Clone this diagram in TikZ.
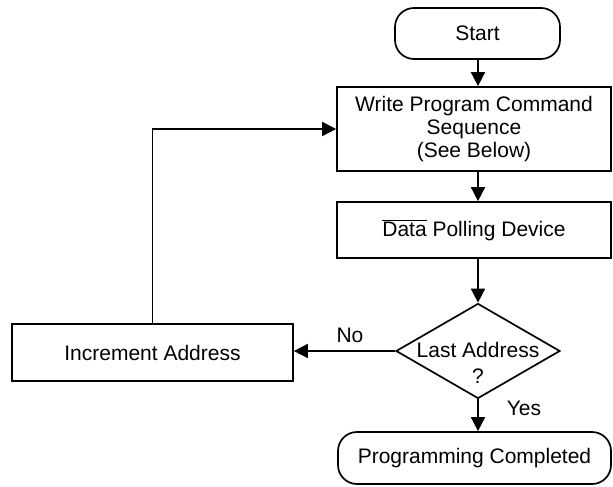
\documentclass[tikz,border=0pt]{standalone}
\usepackage{fontspec}
\setmainfont{Liberation Sans}
\usetikzlibrary{shapes.geometric,arrows.meta}
\begin{document}
\begin{tikzpicture}[x=1pt,y=-1pt,
  every node/.style={font=\fontsize{21}{25}\selectfont, inner sep=0pt},
  box/.style={draw, line width=1.7pt, rectangle},
  term/.style={draw, line width=1.7pt, rectangle, rounded corners=19pt},
  dec/.style={draw, line width=1.7pt, diamond, minimum width=164pt, minimum height=95pt},
  conn/.style={line width=1.7pt, -{Triangle[length=14pt,width=14pt]}},
  lbl/.style={font=\fontsize{21}{25}\selectfont}]
\useasboundingbox (0,0) rectangle (613,487);
\coordinate (ax) at (478,0);
\node[term, minimum width=165pt, minimum height=51pt] (start) at (477.5,33.5) {Start};
\node[box, minimum width=274pt, minimum height=84pt, align=center] (write) at (474,129)
  {Write Program Command\\[-2pt]Sequence\\[-2pt](See Below)};
\node[box, minimum width=274pt, minimum height=56pt] (data) at (474,230)
  {$\overline{\mbox{Data}}$ Polling Device};
\node[dec] (dia) at (478,351) {};
\node[align=center] (diatext) at (478,363) {Last Address\\[1pt]?};
\node[box, minimum width=281pt, minimum height=57pt] (inc) at (152.5,352.5) {Increment Address};
\node[term, minimum width=273pt, minimum height=52pt] (done) at (474.5,458) {Programming Completed};
\node[lbl] (no) at (350,335) {No};
\node[lbl] (yes) at (524,408) {Yes};
\draw[conn] (ax |- start.south) -- (ax |- write.north);
\draw[conn] (ax |- write.south) -- (ax |- data.north);
\draw[conn] (ax |- data.south) -- (dia.north);
\draw[conn] (dia.south) -- (dia.south |- done.north);
\draw[conn] (dia.west) -- (dia.west -| inc.east);
\draw[conn] (inc.north) |- (write.west);
\end{tikzpicture}
\end{document}
